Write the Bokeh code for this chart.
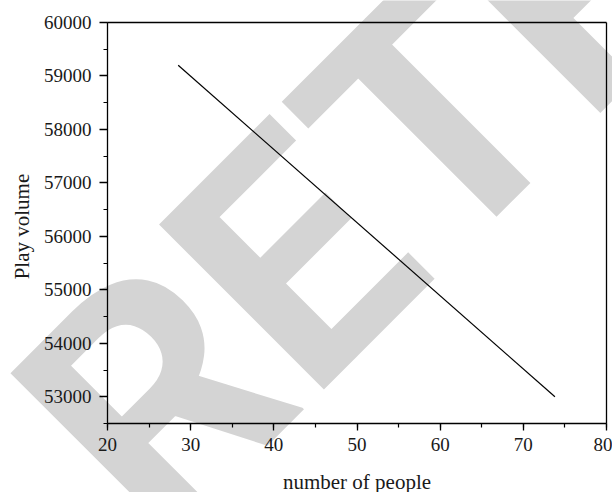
import math
from bokeh.plotting import figure
from bokeh.models import Range1d, SingleIntervalTicker, FixedTicker, Label, LinearAxis
from bokeh.embed import file_html
from bokeh.resources import INLINE

# data
people = [28.5, 73.8]
play_volume = [59200, 53000]
x_title = "number of people"
y_title = "Play volume"
watermark = "RETRACTED"

X0, X1 = 20, 80
Y0, Y1 = 52500, 60000

p = figure(width=612, height=492, output_backend="svg", toolbar_location=None,
           x_range=Range1d(7.134, 80.721), y_range=Range1d(51209.5, 60411.5),
           min_border_left=0, min_border_right=0, min_border_top=0, min_border_bottom=0)
p.xgrid.visible = False
p.ygrid.visible = False
p.outline_line_color = None
p.background_fill_color = "white"
p.border_fill_color = "white"

# watermark behind everything
wm = Label(x=16.87, y=51565, text=watermark, angle=math.pi / 4,
           text_font="Roboto", text_font_style="bold", text_font_size="328px",
           text_color="#d4d4d4", text_align="left", text_baseline="alphabetic",
           level="image")
p.add_layout(wm)

p.line(people, play_volume, line_color="black", line_width=1.2)

xa = p.xaxis[0]
ya = p.yaxis[0]
xa.fixed_location = Y0
ya.fixed_location = X0
xa.bounds = (X0, X1)
ya.bounds = (Y0, Y1)

for ax in (xa, ya):
    ax.axis_line_color = "black"
    ax.axis_line_width = 1.3
    ax.major_tick_line_color = "black"
    ax.minor_tick_line_color = "black"
    ax.major_tick_line_width = 1.3
    ax.minor_tick_line_width = 1.2
    ax.major_tick_in = 0
    ax.minor_tick_in = 0
    ax.major_label_text_font = "Liberation Serif"
    ax.major_label_text_font_size = "19px"
    ax.major_label_text_color = "#1a1a1a"

xa.ticker = SingleIntervalTicker(interval=10, num_minor_ticks=2)
ya.ticker = SingleIntervalTicker(interval=1000, num_minor_ticks=2)
xa.major_tick_out = 7
xa.minor_tick_out = 4
ya.major_tick_out = 8
ya.minor_tick_out = 4
xa.major_label_standoff = 7
ya.major_label_standoff = 8

# top and right frame borders as plain axes
top = LinearAxis(fixed_location=Y1, bounds=(X0, X1), ticker=FixedTicker(ticks=[]),
                 axis_line_color="black", axis_line_width=1.3,
                 major_label_text_font_size="0px")
right = LinearAxis(fixed_location=X1, bounds=(Y0, Y1), ticker=FixedTicker(ticks=[]),
                   axis_line_color="black", axis_line_width=1.3,
                   major_label_text_font_size="0px")
p.add_layout(top, "above")
p.add_layout(right, "right")

xl = Label(x=50, y=51400, text=x_title, text_font="Liberation Serif",
           text_font_size="21px", text_color="#1a1a1a",
           text_align="center", text_baseline="alphabetic")
yl = Label(x=9.66, y=56184, text=y_title, text_font="Liberation Serif",
           text_font_size="21px", text_color="#1a1a1a", angle=math.pi / 2,
           text_align="center", text_baseline="alphabetic")
p.add_layout(xl)
p.add_layout(yl)

open("out.html", "w").write(file_html(p, INLINE))
